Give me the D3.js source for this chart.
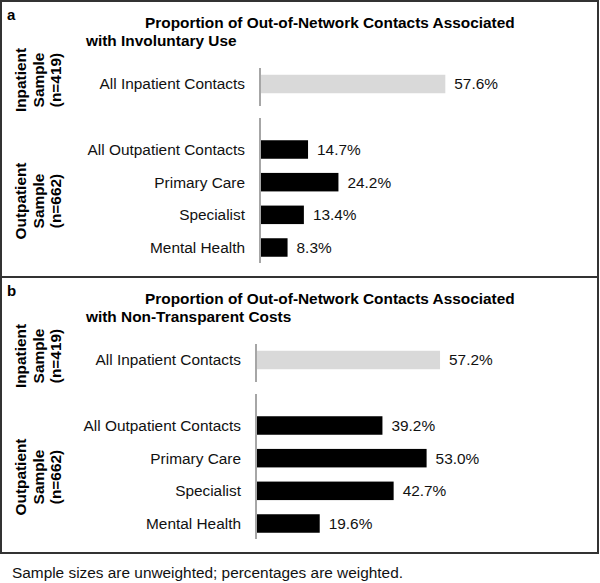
<!DOCTYPE html>
<html><head><meta charset="utf-8">
<script src="https://cdn.jsdelivr.net/npm/d3@7"></script>
<style>body{margin:0;background:#fff}svg{display:block;font-family:"Liberation Sans",Arial,sans-serif}</style>
</head><body><svg id="c" width="600" height="583"></svg>
<script>
const inpatientCategories = ["All Inpatient Contacts"];
const outpatientCategories = ["All Outpatient Contacts", "Primary Care", "Specialist", "Mental Health"];
const panelLetters = ["a", "b"];
const panelTitles = [
  ["Proportion of Out-of-Network Contacts Associated", "with Involuntary Use"],
  ["Proportion of Out-of-Network Contacts Associated", "with Non-Transparent Costs"]
];
const inpatientValues = [[57.6], [57.2]];
const outpatientValues = [[14.7, 24.2, 13.4, 8.3], [39.2, 53.0, 42.7, 19.6]];
const inpatientGroupLabel = ["Inpatient", "Sample", "(n=419)"];
const outpatientGroupLabel = ["Outpatient", "Sample", "(n=662)"];
const footnote = "Sample sizes are unweighted; percentages are weighted.";

const svg = d3.select("#c");
const panelTops = [1, 277];
const panelH = 276;
const axisX = [260, 256];
const barH = 18.5;
const fs = 15.4;

panelLetters.forEach((letter, i) => {
  const top = panelTops[i];
  const g = svg.append("g").attr("transform", `translate(0,${top})`);
  g.append("rect").attr("x", 1).attr("y", 0).attr("width", 597).attr("height", panelH)
    .attr("fill", "none").attr("stroke", "#333").attr("stroke-width", 2);
  g.append("text").attr("x", 7).attr("y", 19).attr("font-size", 15).attr("font-weight", "bold").text(letter);
  g.append("text").attr("x", 145).attr("y", 27).attr("font-size", fs).attr("font-weight", "bold").text(panelTitles[i][0]);
  g.append("text").attr("x", 86).attr("y", 44.5).attr("font-size", fs).attr("font-weight", "bold").text(panelTitles[i][1]);

  const x = d3.scaleLinear().domain([0, 100]).range([axisX[i], axisX[i] + 320]);
  const yIn = d3.scalePoint().domain(inpatientCategories).range([83, 83]);
  const yOut = d3.scalePoint().domain(outpatientCategories).range([148.5, 246.5]);

  g.append("line").attr("x1", x(0)).attr("x2", x(0)).attr("y1", 67).attr("y2", 105)
    .attr("stroke", "#888").attr("stroke-width", 1.5);
  g.append("line").attr("x1", x(0)).attr("x2", x(0)).attr("y1", 117).attr("y2", 262)
    .attr("stroke", "#888").attr("stroke-width", 1.5);

  function drawGroup(cats, vals, y, fill) {
    const rows = cats.map((c, k) => ({c, v: vals[k]}));
    g.selectAll(null).data(rows).enter().append("rect")
      .attr("x", x(0) + 1).attr("y", d => y(d.c) - barH / 2)
      .attr("width", d => x(d.v) - x(0)).attr("height", barH).attr("fill", fill);
    g.selectAll(null).data(rows).enter().append("text")
      .attr("x", x(0) - 15).attr("y", d => y(d.c)).attr("dy", "0.35em")
      .attr("text-anchor", "end").attr("font-size", fs).attr("fill", "#111").text(d => d.c);
    g.selectAll(null).data(rows).enter().append("text")
      .attr("x", d => x(d.v) + 10).attr("y", d => y(d.c)).attr("dy", "0.35em")
      .attr("font-size", fs).attr("fill", "#111").text(d => d.v.toFixed(1) + "%");
  }
  drawGroup(inpatientCategories, inpatientValues[i], yIn, "#d9d9d9");
  drawGroup(outpatientCategories, outpatientValues[i], yOut, "#000");

  function groupLabel(lines, cy) {
    const t = g.append("text").attr("transform", `translate(0,${cy}) rotate(-90)`)
      .attr("text-anchor", "middle").attr("font-size", 15.4).attr("font-weight", "bold");
    lines.forEach((l, k) => t.append("tspan").attr("x", 0).attr("y", 26 + k * 17.5).text(l));
  }
  groupLabel(inpatientGroupLabel, 79);
  groupLabel(outpatientGroupLabel, 200);
});

svg.append("text").attr("x", 12).attr("y", 578).attr("font-size", fs).attr("fill", "#111").text(footnote);
</script></body></html>
